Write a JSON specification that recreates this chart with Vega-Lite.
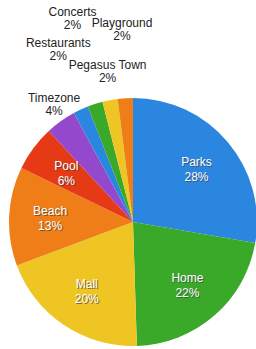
{
  "$schema": "https://vega.github.io/schema/vega-lite/v6.json",
  "width": 266,
  "height": 444,
  "autosize": "none",
  "padding": 0,
  "background": "white",
  "config": {"view": {"stroke": null}, "text": {"font": "Liberation Sans", "fontSize": 12}},
  "data": {
    "values": [
      {"place": "Parks", "share": 28, "lbl": "Parks\n28%"},
      {"place": "Home", "share": 22, "lbl": "Home\n22%"},
      {"place": "Mall", "share": 20, "lbl": "Mall\n20%"},
      {"place": "Beach", "share": 13, "lbl": "Beach\n13%"},
      {"place": "Pool", "share": 6, "lbl": "Pool\n6%"},
      {"place": "Timezone", "share": 4, "lbl": "Timezone\n4%"},
      {"place": "Restaurants", "share": 2, "lbl": "Restaurants\n2%"},
      {"place": "Concerts", "share": 2, "lbl": "Concerts\n2%"},
      {"place": "Pegasus Town", "share": 2, "lbl": "Pegasus Town\n2%"},
      {"place": "Playground", "share": 2, "lbl": "Playground\n2%"}
    ]
  },
  "transform": [{"window": [{"op": "row_number", "as": "idx"}]}],
  "encoding": {
    "theta": {"field": "share", "type": "quantitative", "stack": true},
    "order": {"field": "idx", "type": "quantitative"}
  },
  "layer": [
    {
      "mark": {"type": "arc", "outerRadius": 124},
      "encoding": {
        "color": {
          "field": "place",
          "type": "nominal",
          "legend": null,
          "scale": {
            "domain": ["Parks", "Home", "Mall", "Beach", "Pool", "Timezone", "Restaurants", "Concerts", "Pegasus Town", "Playground"],
            "range": ["#2b86df", "#3aa829", "#eec523", "#ef7e18", "#e63a17", "#9448cc", "#2b86df", "#3aa829", "#eec523", "#ef7e18"]
          }
        }
      }
    },
    {
      "mark": {"type": "text", "radius": 83, "lineBreak": "\n", "lineHeight": 15, "color": "#444", "opacity": 0.7, "dx": 1, "dy": -6},
      "encoding": {"text": {"condition": {"test": "datum.share >= 5", "field": "lbl"}, "value": ""}}
    },
    {
      "mark": {"type": "text", "radius": 83, "lineBreak": "\n", "lineHeight": 15, "color": "white", "dy": -7},
      "encoding": {"text": {"condition": {"test": "datum.share >= 5", "field": "lbl"}, "value": ""}}
    },
    {
      "mark": {"type": "text", "radius": 144, "lineBreak": "\n", "lineHeight": 13, "color": "#222", "dx": 5, "dy": -7},
      "encoding": {"text": {"condition": {"test": "datum.place == 'Timezone'", "field": "lbl"}, "value": ""}}
    },
    {
      "mark": {"type": "text", "radius": 189, "lineBreak": "\n", "lineHeight": 13, "color": "#222", "dx": 5, "dy": -8},
      "encoding": {"text": {"condition": {"test": "datum.place == 'Restaurants'", "field": "lbl"}, "value": ""}}
    },
    {
      "mark": {"type": "text", "radius": 214, "lineBreak": "\n", "lineHeight": 13, "color": "#222", "dx": 5, "dy": -6},
      "encoding": {"text": {"condition": {"test": "datum.place == 'Concerts'", "field": "lbl"}, "value": ""}}
    },
    {
      "mark": {"type": "text", "radius": 153, "lineBreak": "\n", "lineHeight": 13, "color": "#222", "dx": 3, "dy": -7},
      "encoding": {"text": {"condition": {"test": "datum.place == 'Pegasus Town'", "field": "lbl"}, "value": ""}}
    },
    {
      "mark": {"type": "text", "radius": 193, "lineBreak": "\n", "lineHeight": 13, "color": "#222", "dx": 1, "dy": -6},
      "encoding": {"text": {"condition": {"test": "datum.place == 'Playground'", "field": "lbl"}, "value": ""}}
    }
  ]
}
